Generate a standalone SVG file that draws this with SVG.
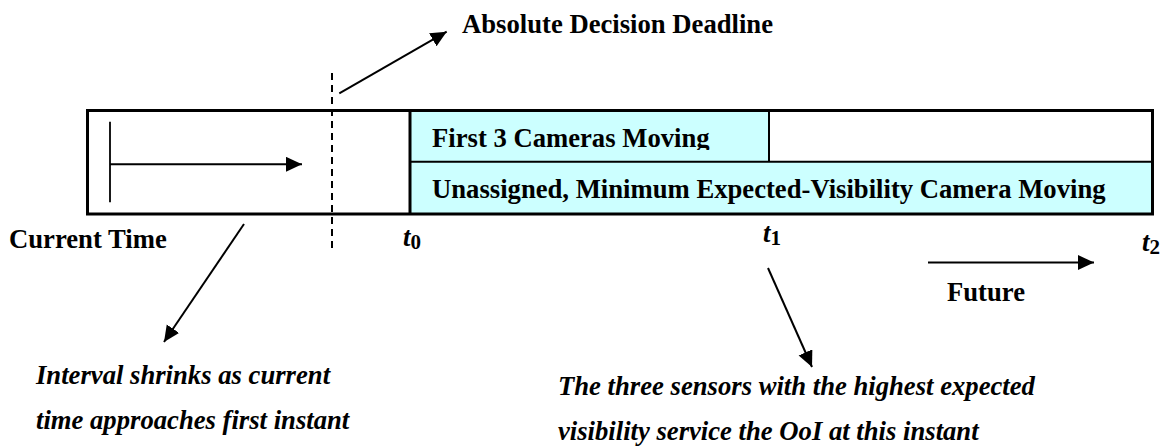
<svg xmlns="http://www.w3.org/2000/svg" width="1166" height="447" viewBox="0 0 1166 447">
<style>
.lbl{font-family:"Liberation Serif","Times New Roman",serif;font-weight:bold;font-size:26.67px;fill:#000}
.it{font-family:"Liberation Serif","Times New Roman",serif;font-weight:bold;font-style:italic;font-size:26.67px;fill:#000}
.sub{font-family:"Liberation Serif","Times New Roman",serif;font-weight:bold;font-style:normal;font-size:21px;fill:#000}
.ln{stroke:#000;stroke-width:2;fill:none}
</style>
<defs>
<marker id="ah" markerUnits="userSpaceOnUse" markerWidth="18" markerHeight="16" refX="16" refY="7.5" orient="auto">
<path d="M0,0 L16,7.5 L0,15 z" fill="#000"/>
</marker>
<clipPath id="clipFirst"><rect x="410" y="112" width="359" height="38"/></clipPath>
</defs>
<rect width="1166" height="447" fill="#fff"/>

<g id="timeline">
<rect x="410" y="110.5" width="742" height="103.5" fill="#CCFFFF"/>
<rect x="769" y="110.5" width="383" height="51" fill="#fff"/>
<line x1="410" y1="161.7" x2="1152" y2="161.7" stroke="#000" stroke-width="2"/>
<line x1="769" y1="110.5" x2="769" y2="161.7" stroke="#000" stroke-width="2"/>
<line x1="410" y1="110.5" x2="410" y2="214" stroke="#000" stroke-width="3"/>
<rect x="87.5" y="110.5" width="1065" height="103.5" fill="none" stroke="#000" stroke-width="3"/>
</g>

<g id="first-cameras">
<text class="lbl" x="432" y="147" clip-path="url(#clipFirst)">First 3 Cameras Moving</text>
</g>
<g id="unassigned">
<text class="lbl" x="432" y="198">Unassigned, Minimum Expected-Visibility Camera Moving</text>
</g>

<g id="current-time">
<line x1="110" y1="121.7" x2="110" y2="202.3" stroke="#000" stroke-width="1.8"/>
<text class="lbl" x="9" y="248">Current Time</text>
</g>

<g id="deadline">
<line x1="332" y1="73" x2="332" y2="249" stroke="#000" stroke-width="2" stroke-dasharray="7,5"/>
<text class="lbl" x="462" y="33">Absolute Decision Deadline</text>
</g>

<g id="t0"><text class="it" x="403" y="246">t<tspan class="sub" dy="3">0</tspan></text></g>
<g id="t1"><text class="it" x="763" y="242">t<tspan class="sub" dy="3">1</tspan></text></g>
<g id="t2"><text class="it" x="1142" y="251">t<tspan class="sub" dy="3">2</tspan></text></g>

<g id="future"><text class="lbl" x="947" y="301">Future</text></g>

<g id="interval-note">
<text class="it" x="36" y="384">Interval shrinks as current</text>
<text class="it" x="36" y="429">time approaches first instant</text>
</g>

<g id="sensors-note">
<text class="it" x="558" y="395">The three sensors with the highest expected</text>
<text class="it" x="558" y="440">visibility service the OoI at this instant</text>
</g>

<g id="connectors">
<line class="ln" x1="110" y1="164.3" x2="302" y2="164.3" marker-end="url(#ah)"/>
<line class="ln" x1="339.3" y1="93.3" x2="446.7" y2="31.7" marker-end="url(#ah)"/>
<line class="ln" x1="244" y1="224" x2="164" y2="342" marker-end="url(#ah)"/>
<line class="ln" x1="768" y1="268" x2="812" y2="367" marker-end="url(#ah)"/>
<line class="ln" x1="928" y1="262.5" x2="1094" y2="262.5" marker-end="url(#ah)"/>
</g>
</svg>
